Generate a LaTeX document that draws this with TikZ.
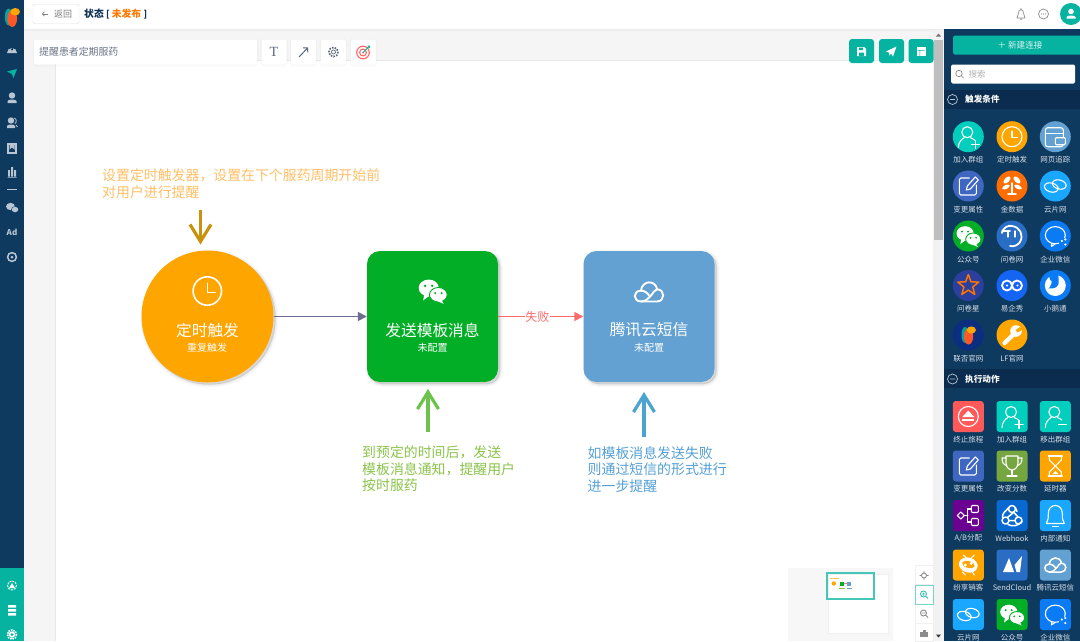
\documentclass[tikz,border=0pt]{standalone}
\usepackage{fontspec}
\setmainfont{Noto Sans CJK SC}
\newfontfamily\serifT{Liberation Serif}
\usetikzlibrary{arrows.meta,shadows}
\definecolor{cnavy}{HTML}{0F3A60}
\definecolor{cnavyd}{HTML}{0B2C4E}
\definecolor{cteal}{HTML}{05B3A0}
\definecolor{corange}{HTML}{FFA500}
\definecolor{cgreen}{HTML}{03AE27}
\definecolor{cblue}{HTML}{62A1D1}
\definecolor{cgrey}{HTML}{B9C6D2}
\definecolor{ctool}{HTML}{5A6678}
\definecolor{clab}{HTML}{D5DEE6}
\definecolor{cazure}{HTML}{1AA7FF}
\definecolor{cqw}{HTML}{0A7BF5}
\definecolor{cdeep}{HTML}{2A6DC4}
\definecolor{cedit}{HTML}{3F66C0}
\definecolor{cmint}{HTML}{00CFBE}
\definecolor{cline}{HTML}{6D6D8F}
\definecolor{cred}{HTML}{FF6B6B}
\definecolor{cnote1}{HTML}{FFBF66}
\definecolor{cnote2}{HTML}{8BC34A}
\definecolor{cnote3}{HTML}{55A0D5}
\definecolor{carr1}{HTML}{C9920C}
\definecolor{carr2}{HTML}{6CC24A}
\definecolor{carr3}{HTML}{4BA3CF}
\definecolor{cindigo}{HTML}{2B3F9E}
\definecolor{cyqx}{HTML}{1565F5}
\def\iklw{1.1pt}
\tikzset{
 ik/.style={draw=white,line width=\iklw,line cap=round,line join=round},
 ikf/.style={fill=white,draw=none},
 softsh/.style={
  general shadow={shadow xshift=2pt,shadow yshift=-2pt,opacity=.025,fill=black,draw=black,line width=6pt},
  general shadow={shadow xshift=2pt,shadow yshift=-2pt,opacity=.035,fill=black,draw=black,line width=3.5pt},
  general shadow={shadow xshift=2pt,shadow yshift=-2pt,opacity=.05,fill=black,draw=black,line width=1pt}},
 lightsh/.style={general shadow={shadow xshift=0pt,shadow yshift=-.5pt,opacity=.02,fill=black,draw=black,line width=2.5pt}},
 mainc/.style={circle,minimum size=132pt,inner sep=0pt,fill=corange,softsh},
 mainr/.style={rectangle,rounded corners=13pt,minimum size=131pt,inner sep=0pt,softsh},
 mtitle/.style={text=white,font=\fontsize{15.7}{18}\selectfont,inner sep=0pt},
 msub/.style={text=white,font=\fontsize{10}{12}\selectfont,inner sep=0pt},
 conn/.style={line width=1.6pt},
 note/.style={align=left,anchor=north west,inner sep=0pt,font=\fontsize{13.9}{16.5}\selectfont},
 barb/.style={line width=3.2pt,-{Straight Barb[length=17pt,width=21pt]}},
 appcircle/.style={circle,minimum size=31pt,inner sep=0pt},
 appsq/.style={rectangle,rounded corners=3pt,minimum size=31pt,inner sep=0pt},
 applabel/.style={text=clab,font=\fontsize{7.5}{9}\selectfont,inner sep=0pt},
 toolbtn/.style={rectangle,fill=white,rounded corners=1.5pt,minimum width=25pt,minimum height=25pt,inner sep=0pt,lightsh},
 teabtn/.style={rectangle,fill=cteal,rounded corners=3pt,minimum width=25pt,minimum height=24pt,inner sep=0pt},
 zoombtn/.style={rectangle,fill=white,draw=black!6,minimum width=18pt,minimum height=19pt,inner sep=0pt},
 pics/ikclock/.style={code={\draw[ik] (0,0) circle [radius=10]; \draw[ik] (0,-5.5)--(0,1)--(5.5,1);}},
 pics/ikperson/.style={code={\draw[ik] (-1,-4.5) circle [radius=5.5];
   \draw[ik] (-10,11) .. controls (-10,6) and (-7,2.5) .. (-4,1); \draw[ik] (2,1) .. controls (4,1.7) and (5.5,2.5) .. (6.5,3.5);
   \draw[ik] (3,8)--(11,8) (7,4)--(7,12);}},
 pics/ikpersonm/.style={code={\draw[ik] (-1,-4.5) circle [radius=5.5];
   \draw[ik] (-10,11) .. controls (-10,6) and (-7,2.5) .. (-4,1); \draw[ik] (2,1) .. controls (4,1.7) and (5.5,2.5) .. (6.5,3.5);
   \draw[ik] (3,8)--(11,8);}},
 pics/ikbrowser/.style={code={\draw[ik,rounded corners=2.5pt] (-10,-9) rectangle (8,10);
   \draw[ik] (-10,-3)--(8,-3); \draw[ik,fill=cblue,rounded corners=1pt] (0,1) rectangle (10,8);}},
 pics/ikedit/.style={code={\draw[ik,rounded corners=1.5pt] (1,-8)--(-9,-8)--(-9,9)--(8,9)--(8,-1);
   \draw[ik] (-2,4)--(-1,0)--(7,-9)--(10,-6)--(2,3)--cycle;}},
 pics/iksprout/.style={code={
   \fill[white,rotate around={45:(-5,-6)}] (-5,-6) ellipse [x radius=4.5,y radius=2.4];
   \fill[white,rotate around={-45:(5,-6)}] (5,-6) ellipse [x radius=4.5,y radius=2.4];
   \fill[white,rotate around={25:(-6,1)}] (-6,1) ellipse [x radius=4,y radius=2];
   \fill[white,rotate around={-25:(6,1)}] (6,1) ellipse [x radius=4,y radius=2];
   \draw[ik,line width=1.6pt] (0,-3)--(0,7) (-4,8)--(4,8);}},
 pics/ikcloudlink/.style={code={
   \draw[ik,rotate around={-15:(-4,1.5)}] (-4,1.5) ellipse [x radius=7,y radius=4.5];
   \draw[ik,rotate around={-15:(4,-1.5)}] (4,-1.5) ellipse [x radius=7,y radius=4.5];}},
 pics/ikwechat/.style={code={
   \fill[white] (-3.2,-2.6) ellipse [x radius=8.6,y radius=7.2];
   \fill[white] (-7,3) -- (-8,8) -- (-2.5,4) -- cycle;
   \fill[#1] (-6.3,-4.4) circle [radius=1.1] (-.3,-4.4) circle [radius=1.1];
   \draw[#1,fill=white,line width=.9pt] (5,3.2) ellipse [x radius=7.6,y radius=6.2];
   \fill[white] (7.5,7) -- (9.5,11) -- (4,8.5) -- cycle;
   \fill[#1] (2.2,1.8) circle [radius=1] (7.8,1.8) circle [radius=1];}},
 pics/ikqw/.style={code={
   \draw[ik] (0,-.8) ellipse [x radius=10,y radius=8.6];
   \fill[#1] (8.5,7) circle [radius=5];
   \draw[ik] (-3.5,7.5)--(-4,10.5)--(-.5,8.2);
   \fill[white] (6.5,5) circle [radius=1.2] (10,3.5) circle [radius=1.2] (10,8.5) circle [radius=1.2];}},
 pics/ikwenjuan/.style={code={
   \draw[ik,line width=1.8pt] (-10,-3) .. controls (-9,-9) and (-3,-11) .. (0,-10) .. controls (8,-9) and (12,-1) .. (8,6) .. controls (6,9) and (2,11) .. (-2,10);
   \draw[ik,line width=1.8pt] (-10,-5)--(-2,-5);
   \draw[ik] (-4,-5) -- (-4,1);
   \draw[ik] (3,-5) -- (3,1);}},
 pics/ikstar/.style={code={\draw[draw=orange!90!red,fill=cindigo,line width=1.5pt,line join=round]
   (-90:11)--(-54:4.6)--(-18:11)--(18:4.6)--(54:11)--(90:4.6)--(126:11)--(162:4.6)--(198:11)--(234:4.6)--cycle;}},
 pics/ikyqx/.style={code={\draw[ik,line width=1.8pt] (-5,0) circle [radius=5] (5,0) circle [radius=5];
   \fill[white] (-5,0) circle [radius=1.2] (5.5,0) circle [radius=1.2];}},
 pics/ikduck/.style={code={\fill[white] (0,0) circle [radius=10.5];
   \fill[#1] (-4,-10) .. controls (-2,-5) and (-5,3) .. (-7,3) .. controls (-2,3) and (1,3) .. (3,-1) .. controls (4,-4) and (3,-8) .. (3,-11) -- cycle;
   \fill[#1] (-2,-8) circle [radius=4];}},
 pics/iklogo/.style={code={
   \fill[teal!70!cyan] (-3.2,0) ellipse [x radius=3.6,y radius=8];
   \fill[red!55!orange!85!white] (.2,1.5) ellipse [x radius=4.6,y radius=8];
   \fill[corange] (3,-5) ellipse [x radius=4.6,y radius=3.6];}},
 pics/ikwrench/.style={code={\draw[white,line width=4.2pt,line cap=round] (-7.5,8) -- (3,-2);
   \fill[white] (4,-4) circle [radius=5.8];
   \fill[#1] (8,-8) -- (11,-5.5) -- (5.5,-2.5) -- (3.5,-5) -- cycle;}},
 pics/ikeject/.style={code={\draw[ik] (0,0) circle [radius=10];
   \fill[white] (-6,.5)--(6,.5)--(0,-6)--cycle; \fill[white] (-6,2.5) rectangle (6,4.5);}},
 pics/iktrophy/.style={code={
   \draw[ik] (-6,-10)--(6,-10)--(6,-3) .. controls (6,2) and (2,4) .. (0,4) .. controls (-2,4) and (-6,2) .. (-6,-3) -- cycle;
   \draw[ik] (-6,-8) -- (-10,-8) .. controls (-10,-3) and (-8,-1) .. (-5,0);
   \draw[ik] (6,-8) -- (10,-8) .. controls (10,-3) and (8,-1) .. (5,0);
   \draw[ik] (0,4)--(0,10) (-5,10)--(5,10);}},
 pics/ikhour/.style={code={
   \draw[ik] (-7,-10)--(7,-10) (-7,10)--(7,10);
   \draw[ik] (-6,-10)--(-6,-6)--(6,6)--(6,10) (6,-10)--(6,-6)--(-6,6)--(-6,10);
   \fill[white] (-3,8)--(3,8)--(0,5)--cycle;}},
 pics/ikab/.style={code={
   \draw[ik] (-11,0)--(-7.5,-3.5)--(-4,0)--(-7.5,3.5)--cycle;
   \draw[ik,rounded corners=1pt] (3,-10) rectangle (10,-3);
   \draw[ik,rounded corners=1pt] (3,3) rectangle (10,10);
   \draw[ik] (-4,0)--(-.5,0) (3,-6.5)--(-.5,-6.5)--(-.5,6.5)--(3,6.5);}},
 pics/ikwebhook/.style={code={
   \draw[ik,line width=1.5pt] (0,-6.5) circle [radius=3.5] (-6.5,5) circle [radius=3.5] (6.5,5) circle [radius=3.5];
   \draw[ik,line width=1.5pt] (-3.3,-8) .. controls (-6,-4) and (-10,-3) .. (-9.5,2);
   \draw[ik,line width=1.5pt] (3.3,-8) -- (5,-4) (1.5,-3) -- (-4.5,2);
   \draw[ik,line width=1.5pt] (3,5)--(-3,5) (-4,9) .. controls (0,11) and (6,11) .. (10,6) (2,-3) -- (6,1.5);}},
 pics/ikbell/.style={code={
   \draw[ik] (-9,8) .. controls (-7,5) and (-7,2) .. (-7,-2) .. controls (-7,-7) and (-4,-10) .. (0,-10) .. controls (4,-10) and (7,-7) .. (7,-2) .. controls (7,2) and (7,5) .. (9,8) -- cycle;
   \draw[ik] (-3,11)--(3,11);}},
 pics/ikrobot/.style={code={
   \fill[white,rotate around={-15:(0,0)}] (0,0) ellipse [x radius=9.5,y radius=7.5];
   \fill[#1,rotate around={-15:(0,0)}] (0,-.5) ellipse [x radius=6.5,y radius=3.4];
   \fill[white] (-3,0) circle [radius=1.6] (3,-1.5) circle [radius=1.6];
   \draw[ik] (-2,-7)--(-5,-10) (3,-7)--(6,-10) (-6,7)--(-3,10) (4,7)--(6,10);}},
 pics/iksend/.style={code={\fill[white] (-9,7)--(-3,-7)--(2,7)--cycle; \fill[white] (2.5,0)--(10,-9)--(8,7)--(4.5,7)--cycle;}},
 pics/iktencent/.style={code={
   \draw[ik,line width=1.5pt] (-6,7) .. controls (-12,7) and (-12,-1) .. (-6,-1) .. controls (-5,-9) and (5,-9) .. (6,-2) .. controls (12,-2) and (12,7) .. (6,7) -- cycle;
   \draw[ik,line width=1.5pt] (-6,7) .. controls (-2,7) and (-1,5) .. (2,2) .. controls (3,.5) and (4,-1.5) .. (6,-2);
   \draw[ik,line width=1.5pt] (-6,-1) .. controls (-3,-1) and (-1,1) .. (0,2.5);}},
 pics/iktencentb/.style={code={
   \draw[ik,line width=1.9pt] (-6,7) .. controls (-12,7) and (-12,-1) .. (-6,-1) .. controls (-5,-9) and (5,-9) .. (6,-2) .. controls (12,-2) and (12,7) .. (6,7) -- cycle;
   \draw[ik,line width=1.9pt] (-6,7) .. controls (-2,7) and (-1,5) .. (2,2) .. controls (3,.5) and (4,-1.5) .. (6,-2);
   \draw[ik,line width=1.9pt] (-6,-1) .. controls (-3,-1) and (-1,1) .. (0,2.5);}},
}
\newcommand{\appc}[6]{\node[appcircle,fill=#4] (#1) at (#2,#3) {};\pic at (#1) {#5};\node[applabel] (#1l) at (#2,#3+23.3) {#6};}
\newcommand{\apps}[6]{\node[appsq,fill=#4] (#1) at (#2,#3) {};\pic at (#1) {#5};\node[applabel] (#1l) at (#2,#3+22.8) {#6};}
\begin{document}
\begin{tikzpicture}[x=1pt,y=-1pt]
\useasboundingbox (0,0) rectangle (1080,641);
% base areas
\fill[white] (0,0) rectangle (1080,641);
\fill[black!4] (24,29) rectangle (944,641);
\fill[white] (55,60) rectangle (933,641);
\draw[black!9,line width=.6pt] (55,60) -- (55,641) (55,60) -- (933,60);
\fill[black!7] (24,29) rectangle (944,30.5);
% scrollbar
\fill[black!5] (933,30) rectangle (943.5,641);
\fill[black!25] (934,40) rectangle (943,240);
\fill[black!55] (936,36.5)--(941,36.5)--(938.5,33.5)--cycle;
\fill[black!80] (936,634.5)--(941,634.5)--(938.5,637.5)--cycle;
% left sidebar
\fill[cnavy] (0,0) rectangle (24,568);
\fill[cteal] (0,568) rectangle (24,641);
\pic[scale=1.05] at (12,17) {iklogo};
% left icons
\fill[cgrey] (7,53) arc (180:360:5) -- cycle; \fill[cnavy] (12,49.5) circle [radius=1.2]; \draw[cnavy,line width=.7pt] (12,49)--(13.8,45.8);
\fill[cteal] (7,71.5)--(17,69)--(13.5,78)--(12,74)--cycle;
\fill[cgrey] (12,95.5) circle [radius=3.2]; \fill[cgrey] (7.5,103) -- (7.5,101) .. controls (8,99) and (16,99) .. (16.5,101) -- (16.5,103) -- cycle;
\fill[cgrey] (11,120.5) circle [radius=3.2]; \fill[cgrey] (7,128) -- (7,126) .. controls (7.5,124) and (14.5,124) .. (15,126) -- (15,128) -- cycle; \draw[cgrey,line width=.8pt] (14.5,118) .. controls (17,119) and (16.5,123) .. (15,123.5) (16,125) -- (17.5,127);
\draw[cgrey,line width=1.2pt] (8,144) rectangle (16,153); \fill[cgrey] (9.5,144) -- (14.5,144) -- (14.5,149.5) -- (12,147.5) -- (9.5,149.5) -- cycle;
\fill[cgrey] (8,170) rectangle (9.8,176.5) (11,167) rectangle (13,176.5) (14.2,170) rectangle (16,176.5) (7.5,177) rectangle (16.5,177.6);
\draw[cgrey,line width=.6pt] (7,189.3)--(17,189.3);
\fill[cgrey] (10.5,206.5) ellipse [x radius=4.4,y radius=3.6] (15,209.5) ellipse [x radius=3.6,y radius=3];
\draw[cnavy,line width=.4pt] (15,209.5) ellipse [x radius=3.6,y radius=3];
\node[text=cgrey,font=\bfseries\fontsize{8}{9}\selectfont,inner sep=0pt] (sideAd) at (12,232.5) {Ad};
\draw[cgrey,line width=1.5pt] (12,257) circle [radius=4.4]; \fill[cgrey] (12,257) circle [radius=1.5];
% sidebar bottom
\draw[white,line width=.9pt,dash pattern=on 2pt off 1pt] (12,585.5) circle [radius=4.5]; \fill[white] (12,583) -- (15,588) -- (9,588) -- cycle;
\fill[white] (8,605) rectangle (16,607.5) (8,609) rectangle (16,611.5) (8,613) rectangle (16,615.5);
\draw[white,line width=1.6pt,dash pattern=on 1.5pt off 1pt] (12,634.5) circle [radius=4.6]; \fill[white] (12,634.5) circle [radius=3.2]; \fill[cteal] (12,634.5) circle [radius=1.5];
% header
\node[rectangle,draw=black!12,fill=white,rounded corners=1.5pt,minimum width=46pt,minimum height=19.5pt,inner sep=0pt] (back) at (56,14) {};
\draw[black!50,line width=.7pt,-{Straight Barb[length=2pt,width=4.5pt]}] (47.5,14) -- (42,14);
\node[text=black!50,font=\fontsize{9}{10}\selectfont,inner sep=0pt] (backt) at (63,14) {返回};
\node[anchor=west,inner sep=0pt,font=\bfseries\fontsize{9.8}{11}\selectfont,text=cnavy!85!black] (state) at (84,14) {状态 {\fontsize{9}{10}\selectfont[} \textcolor{orange!95!red}{未发布} {\fontsize{9}{10}\selectfont]}};
\draw[black!45,line width=.7pt] (1017,18) .. controls (1018.5,16) and (1018.5,15) .. (1018.5,13) .. controls (1018.5,8.5) and (1023.5,8.5) .. (1023.5,13) .. controls (1023.5,15) and (1023.5,16) .. (1025,18) -- cycle (1021,9)--(1021,8) (1020,19.3)--(1022,19.3);
\draw[black!45,line width=.7pt] (1043.5,14) circle [radius=5];
\fill[black!45] (1041.5,14) circle [radius=.55] (1043.5,14) circle [radius=.55] (1045.5,14) circle [radius=.55];
\node[circle,fill=cteal,minimum size=22pt,inner sep=0pt] (avatar) at (1071,14) {};
\fill[white] (1071,11.5) circle [radius=2.8]; \fill[white] (1066.5,18.5) -- (1066.5,17) .. controls (1067,15) and (1075,15) .. (1075.5,17) -- (1075.5,18.5) -- cycle;
% toolbar
\node[toolbtn,minimum width=223pt,anchor=west] (titlebox) at (34,52) {};
\node[anchor=west,inner sep=0pt,text=ctool!90,font=\fontsize{9.9}{11}\selectfont] (titlet) at (39,52) {提醒患者定期服药};
\node[toolbtn] (btnT) at (274,52) {}; \node[text=ctool,font=\serifT\fontsize{14}{15}\selectfont,inner sep=0pt] (btnTt) at (274,52) {T};
\node[toolbtn] (btnA) at (303.5,52) {};
\draw[ctool,line width=1pt,-{Straight Barb[length=3pt,width=6.5pt]}] (299,57) -- (308,47.5);
\node[toolbtn] (btnG) at (333.5,52) {};
\draw[ctool,line width=1.7pt,dash pattern=on 1.5pt off 1.3pt] (333.5,52) circle [radius=4.6];
\draw[ctool,line width=.7pt] (333.5,52) circle [radius=2];
\node[toolbtn] (btnC) at (363.5,52) {};
\draw[red!60!white,line width=1.1pt] (363,52.5) circle [radius=6.3] (363,52.5) circle [radius=3.4]; \fill[red!60!white] (363,52.5) circle [radius=1];
\draw[cteal,line width=.8pt] (363,52.5) -- (369,46.5) (367.5,46)--(369.5,46)--(369.5,48);
% top right buttons
\node[teabtn] (bsave) at (861.5,51) {};
\fill[white] (857,47) -- (864,47) -- (866,49) -- (866,56) -- (857,56) -- cycle; \fill[cteal] (859,47.5) rectangle (863,50) (859,52.5) rectangle (864,56);
\node[teabtn] (bsend) at (891.5,51) {};
\fill[white] (886,51.5) -- (896.5,46.5) -- (893,56.5) -- (891,53.5) -- (889,55.5) -- (889,52.5) -- cycle;
\node[teabtn] (btab) at (921,51) {};
\fill[white] (916.5,47) rectangle (925.5,56); \fill[cteal] (917.5,50) rectangle (924.5,50.6) (919.5,50.6) rectangle (920.1,56);
% main flow
\node[mainc] (trig) at (207.5,316.5) {};
\node[mainr,fill=cgreen] (send) at (432.5,316.5) {};
\node[mainr,fill=cblue] (sms) at (649,316.5) {};
\draw[conn,draw=cline,-{Triangle[length=9pt,width=9pt]}] (trig) -- (send);
\draw[conn,draw=cred,-{Triangle[length=9pt,width=9pt]}] (send) -- node[pos=.46,fill=white,inner sep=.5pt,text=cred,font=\fontsize{12}{13}\selectfont] (fail) {失败} (sms);
\begingroup\def\iklw{1.6pt}
\pic[scale=1.42] at (207.3,291) {ikclock};
\pic[scale=1.17] at (432.5,291) {ikwechat=cgreen};
\pic[scale=1.35] at (649,292) {iktencentb};
\endgroup
\node[mtitle] (trigt) at (207.5,330) {定时触发};
\node[msub] (trigs) at (207,347.5) {重复触发};
\node[mtitle] (sendt) at (432.5,330) {发送模板消息};
\node[msub] (sends) at (432.5,347.5) {未配置};
\node[mtitle] (smst) at (649,330) {腾讯云短信};
\node[msub] (smss) at (649,347.5) {未配置};
% annotations
\node[note,text=cnote1] (note1) at (102,169) {设置定时触发器，设置在下个服药周期开始前\\对用户进行提醒};
\node[note,text=cnote2] (note2) at (362,446) {到预定的时间后，发送\\模板消息通知，提醒用户\\按时服药};
\node[note,text=cnote3] (note3) at (587.5,446) {如模板消息发送失败\\则通过短信的形式进行\\进一步提醒};
\coordinate (a1s) at (200.5,210); \coordinate (a1e) at (200.5,244.5);
\coordinate (a2s) at (428,432); \coordinate (a2e) at (428,389);
\coordinate (a3s) at (644,437); \coordinate (a3e) at (644,392);
\draw[barb,draw=carr1] (a1s) -- (a1e);
\draw[barb,draw=carr2] (a2s) -- (a2e);
\draw[barb,draw=carr3] (a3s) -- (a3e);
% minimap
\fill[black!3] (788,568) rectangle (893,641);
\fill[white] (828,574) rectangle (888,633);
\draw[black!6,line width=.4pt] (828,574) rectangle (888,633);
\draw[cteal!75,line width=1.2pt] (827,573) rectangle (874,599);
\fill[corange] (833.8,583.5) circle [radius=2.2];
\fill[cgreen] (839.5,581.5) rectangle (844,586);
\fill[cblue] (846.5,581.5) rectangle (851,586);
\draw[red!50,line width=.4pt] (844,583.5)--(846.5,583.5);
\draw[cnote1,line width=.8pt] (830,578.3)--(839,578.3);
\draw[cnote2,line width=.8pt] (839,588.3)--(845,588.3);
\draw[cblue,line width=.8pt] (847,588.3)--(852,588.3);
% zoom buttons
\node[zoombtn] (z1) at (924,575) {};
\node[zoombtn] (z3) at (924,613.5) {};
\node[zoombtn,minimum height=18pt] (z4) at (924,632.5) {};
\node[zoombtn,draw=cteal!55] (z2) at (924,594.5) {};
\draw[black!45,line width=.9pt] (924,575.5) circle [radius=2.5] (924,571)--(924,573) (924,578)--(924,580) (919.5,575.5)--(921.5,575.5) (926.5,575.5)--(928.5,575.5);
\draw[cteal!80,line width=.9pt] (923.5,594) circle [radius=3] (926,596.5)--(928,598.5) (922,594)--(925,594) (923.5,592.5)--(923.5,595.5);
\draw[black!45,line width=.9pt] (923.5,613) circle [radius=3] (926,615.5)--(928,617.5) (922,613)--(925,613);
\fill[black!45] (920,632) rectangle (928,637); \fill[black!45] (922.5,629.5) rectangle (925.5,632);
% right panel
\fill[cnavy] (944,29) rectangle (1080,641);
\node[rectangle,fill=cteal,rounded corners=1.5pt,minimum width=130pt,minimum height=19pt,anchor=west,inner sep=0pt] (newconn) at (953,45) {};
\node[text=white!85!cteal,font=\fontsize{8.6}{10}\selectfont,inner sep=0pt] (newconnt) at (1020,45.3) {＋ 新建连接};
\node[rectangle,fill=white,rounded corners=1.5pt,minimum width=124pt,minimum height=19pt,anchor=west,inner sep=0pt] (search) at (951,74) {};
\draw[black!45,line width=.7pt] (959,73.5) circle [radius=3.2] (961.3,75.8)--(963.5,78);
\node[anchor=west,text=black!30,font=\fontsize{8.5}{10}\selectfont,inner sep=0pt] (searcht) at (968.5,74) {搜索};
\fill[cnavyd] (944,90) rectangle (1080,108.5);
\draw[cgrey,line width=.7pt] (952.5,99.5) circle [radius=5] (950,99.5)--(955,99.5);
\node[anchor=west,text=white,font=\bfseries\fontsize{8.6}{10}\selectfont,inner sep=0pt] (sec1) at (965,99.5) {触发条件};
\fill[cnavyd] (944,369) rectangle (1080,388);
\draw[cgrey,line width=.7pt] (952.5,379) circle [radius=5] (950,379)--(955,379);
\node[anchor=west,text=white,font=\bfseries\fontsize{8.6}{10}\selectfont,inner sep=0pt] (sec2) at (965,379) {执行动作};
% trigger apps
\appc{t1}{968.3}{136.7}{cmint}{ikperson}{加入群组}
\appc{t2}{1012}{136.7}{corange}{ikclock}{定时触发}
\appc{t3}{1055.3}{136.7}{cblue}{ikbrowser}{网页追踪}
\appc{t4}{968.3}{186}{cedit}{ikedit}{变更属性}
\appc{t5}{1012}{186}{orange!85!red}{iksprout}{金数据}
\appc{t6}{1055.3}{186}{cazure}{ikcloudlink}{云片网}
\appc{t7}{968.3}{236}{cgreen}{ikwechat=cgreen}{公众号}
\appc{t8}{1012}{236}{cdeep}{ikwenjuan}{问卷网}
\appc{t9}{1055.3}{236}{cqw}{ikqw=cqw}{企业微信}
\appc{t10}{968.3}{285.5}{cindigo}{ikstar}{问卷星}
\appc{t11}{1012}{285.5}{cyqx}{ikyqx}{易企秀}
\appc{t12}{1055.3}{285.5}{cqw}{ikduck=cqw}{小鹅通}
\appc{t13}{968.3}{335}{cnavy!80!blue}{iklogo}{联否官网}
\appc{t14}{1012}{335}{orange!70!yellow}{ikwrench=orange!70!yellow}{LF官网}
% action apps
\apps{a1}{968.3}{416.5}{red!65!white}{ikeject}{终止旅程}
\apps{a2}{1012}{416.5}{cmint}{ikperson}{加入群组}
\apps{a3}{1055.3}{416.5}{cmint}{ikpersonm}{移出群组}
\apps{a4}{968.3}{466}{cedit}{ikedit}{变更属性}
\apps{a5}{1012}{466}{cnote2!85!black}{iktrophy}{改变分数}
\apps{a6}{1055.3}{466}{corange}{ikhour}{延时器}
\apps{a7}{968.3}{515.5}{violet!85!blue}{ikab}{A/B分配}
\apps{a8}{1012}{515.5}{cqw!85!black}{ikwebhook}{Webhook}
\apps{a9}{1055.3}{515.5}{cazure}{ikbell}{内部通知}
\apps{a10}{968.3}{565}{corange}{ikrobot=corange}{纷享销客}
\apps{a11}{1012}{565}{cdeep}{iksend}{SendCloud}
\apps{a12}{1055.3}{565}{cblue}{iktencent}{腾讯云短信}
\apps{a13}{968.3}{614.5}{cazure}{ikcloudlink}{云片网}
\apps{a14}{1012}{614.5}{cgreen}{ikwechat=cgreen}{公众号}
\apps{a15}{1055.3}{614.5}{cqw}{ikqw=cqw}{企业微信}
\end{tikzpicture}
\end{document}
